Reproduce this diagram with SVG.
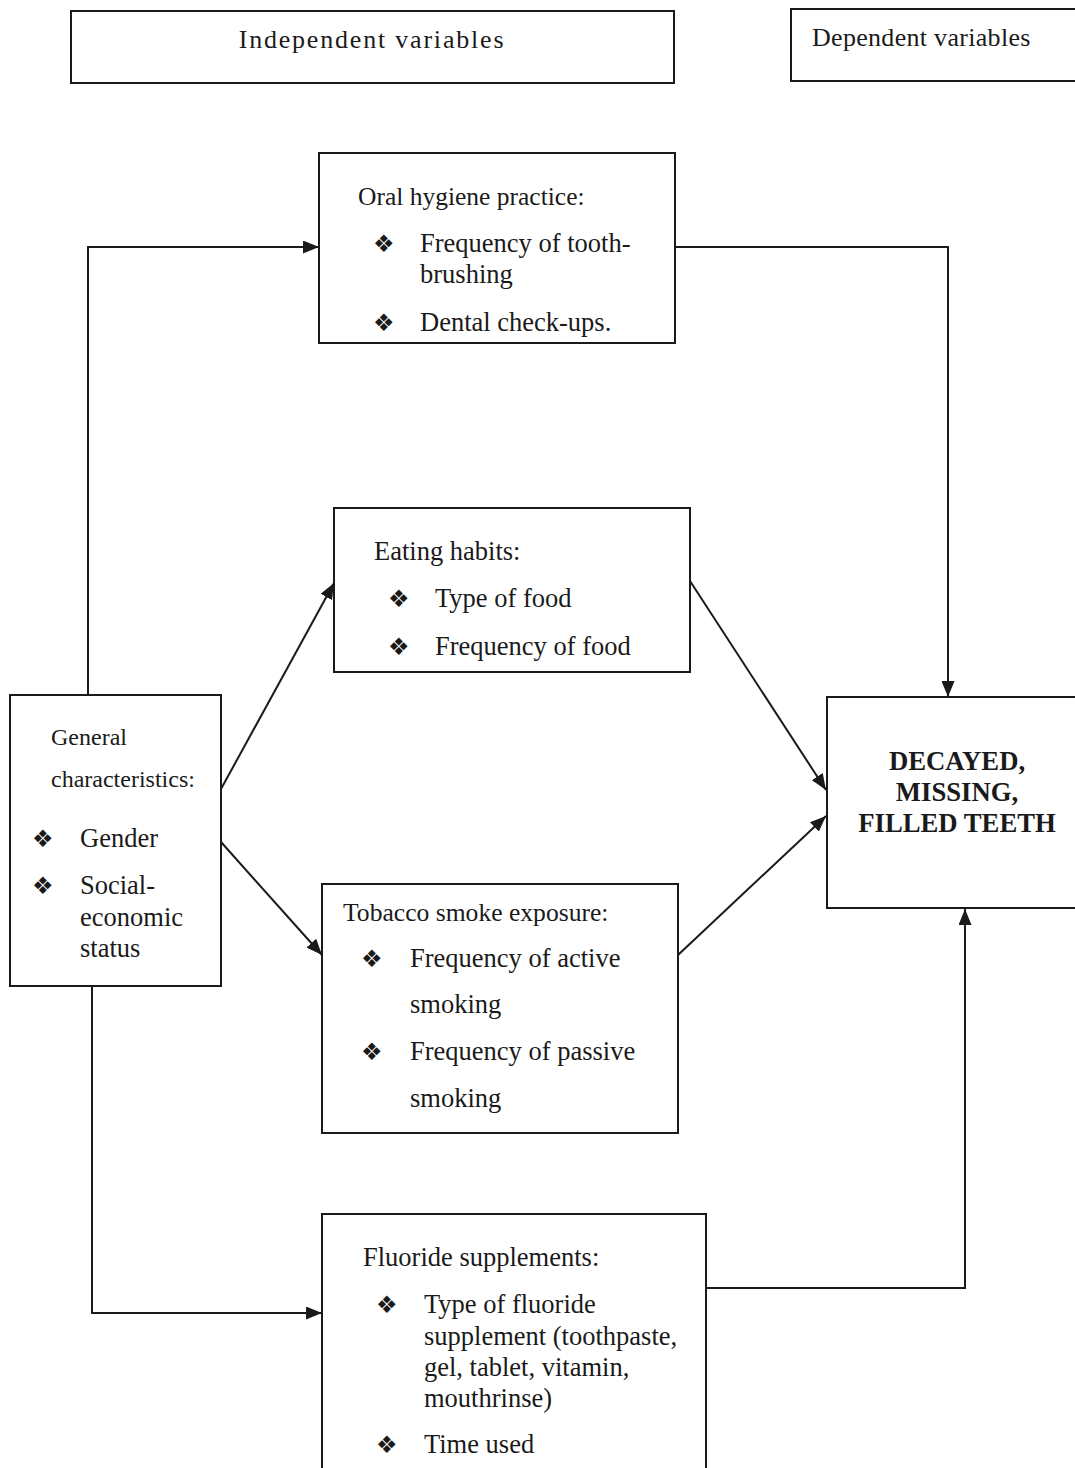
<svg xmlns="http://www.w3.org/2000/svg" width="1075" height="1468" viewBox="0 0 1075 1468">
<style>
.box{fill:#fff;stroke:#1a1a1a;stroke-width:2}
.t{font-family:"Liberation Serif","Times New Roman",serif;fill:#1a1a1a}
.b{font-family:"DejaVu Sans",sans-serif;font-size:24px;fill:#1a1a1a}
.c{fill:none;stroke:#1a1a1a;stroke-width:2}
</style>
<defs>
<marker id="ah" markerUnits="userSpaceOnUse" markerWidth="17" markerHeight="13" refX="16" refY="6.5" orient="auto">
<path d="M0,0 L16,6.5 L0,13 z" fill="#1a1a1a"/>
</marker>
<clipPath id="clipOral"><rect x="319" y="153" width="356" height="185"/></clipPath>
</defs>
<rect width="1075" height="1468" fill="#fff"/>

<g id="connectors">
<polyline class="c" points="88,695 88,247 319,247" marker-end="url(#ah)"/>
<polyline class="c" points="675,247 948,247 948,697" marker-end="url(#ah)"/>
<line class="c" x1="221" y1="789" x2="334" y2="583" marker-end="url(#ah)"/>
<line class="c" x1="221" y1="842" x2="322" y2="955" marker-end="url(#ah)"/>
<line class="c" x1="690" y1="581" x2="826" y2="790" marker-end="url(#ah)"/>
<line class="c" x1="678" y1="955" x2="826" y2="816" marker-end="url(#ah)"/>
<polyline class="c" points="92,986 92,1313 322,1313" marker-end="url(#ah)"/>
<polyline class="c" points="706,1288 965,1288 965,909" marker-end="url(#ah)"/>
</g>

<g id="independent">
<rect class="box" x="71" y="11" width="603" height="72"/>
<text class="t" x="372" y="48" font-size="26" letter-spacing="1.8" text-anchor="middle">Independent variables</text>
</g>

<g id="dependent">
<rect class="box" x="791" y="9" width="300" height="72"/>
<text class="t" x="812" y="46" font-size="26" letter-spacing="0.3">Dependent variables</text>
</g>

<g id="oral">
<rect class="box" x="319" y="153" width="356" height="190"/>
<g clip-path="url(#clipOral)">
<text class="t" x="358" y="205" font-size="25.5">Oral hygiene practice:</text>
<text class="b" x="373" y="252">❖</text>
<text class="t" x="420" y="252" font-size="26.5">Frequency of tooth-</text>
<text class="t" x="420" y="283" font-size="26.5">brushing</text>
<text class="b" x="373" y="331">❖</text>
<text class="t" x="420" y="331" font-size="26.5">Dental check-ups.</text>
</g>
</g>

<g id="eating">
<rect class="box" x="334" y="508" width="356" height="164"/>
<text class="t" x="374" y="560" font-size="26.5">Eating habits:</text>
<text class="b" x="388" y="607">❖</text>
<text class="t" x="435" y="607" font-size="26.5">Type of food</text>
<text class="b" x="388" y="655">❖</text>
<text class="t" x="435" y="655" font-size="26.5">Frequency of food</text>
</g>

<g id="general">
<rect class="box" x="10" y="695" width="211" height="291"/>
<text class="t" x="51" y="745" font-size="24">General</text>
<text class="t" x="51" y="787" font-size="24">characteristics:</text>
<text class="b" x="32" y="847">❖</text>
<text class="t" x="80" y="847" font-size="26.5">Gender</text>
<text class="b" x="32" y="894">❖</text>
<text class="t" x="80" y="894" font-size="26.5">Social-</text>
<text class="t" x="80" y="926" font-size="26.5">economic</text>
<text class="t" x="80" y="957" font-size="26.5">status</text>
</g>

<g id="dmft">
<rect class="box" x="827" y="697" width="260" height="211"/>
<text class="t" x="957" y="770" font-size="26.7" font-weight="bold" text-anchor="middle">DECAYED,</text>
<text class="t" x="957" y="801" font-size="26.7" font-weight="bold" text-anchor="middle">MISSING,</text>
<text class="t" x="957" y="832" font-size="26.7" font-weight="bold" text-anchor="middle">FILLED TEETH</text>
</g>

<g id="tobacco">
<rect class="box" x="322" y="884" width="356" height="249"/>
<text class="t" x="343" y="921" font-size="25.6">Tobacco smoke exposure:</text>
<text class="b" x="361" y="967">❖</text>
<text class="t" x="410" y="967" font-size="26.5">Frequency of active</text>
<text class="t" x="410" y="1013" font-size="26.5">smoking</text>
<text class="b" x="361" y="1060">❖</text>
<text class="t" x="410" y="1060" font-size="26.5">Frequency of passive</text>
<text class="t" x="410" y="1107" font-size="26.5">smoking</text>
</g>

<g id="fluoride">
<rect class="box" x="322" y="1214" width="384" height="280"/>
<text class="t" x="363" y="1266" font-size="26.5">Fluoride supplements:</text>
<text class="b" x="376" y="1313">❖</text>
<text class="t" x="424" y="1313" font-size="26.5">Type of fluoride</text>
<text class="t" x="424" y="1345" font-size="26.5">supplement (toothpaste,</text>
<text class="t" x="424" y="1376" font-size="26.5">gel, tablet, vitamin,</text>
<text class="t" x="424" y="1407" font-size="26.5">mouthrinse)</text>
<text class="b" x="376" y="1453">❖</text>
<text class="t" x="424" y="1453" font-size="26.5">Time used</text>
</g>
</svg>
